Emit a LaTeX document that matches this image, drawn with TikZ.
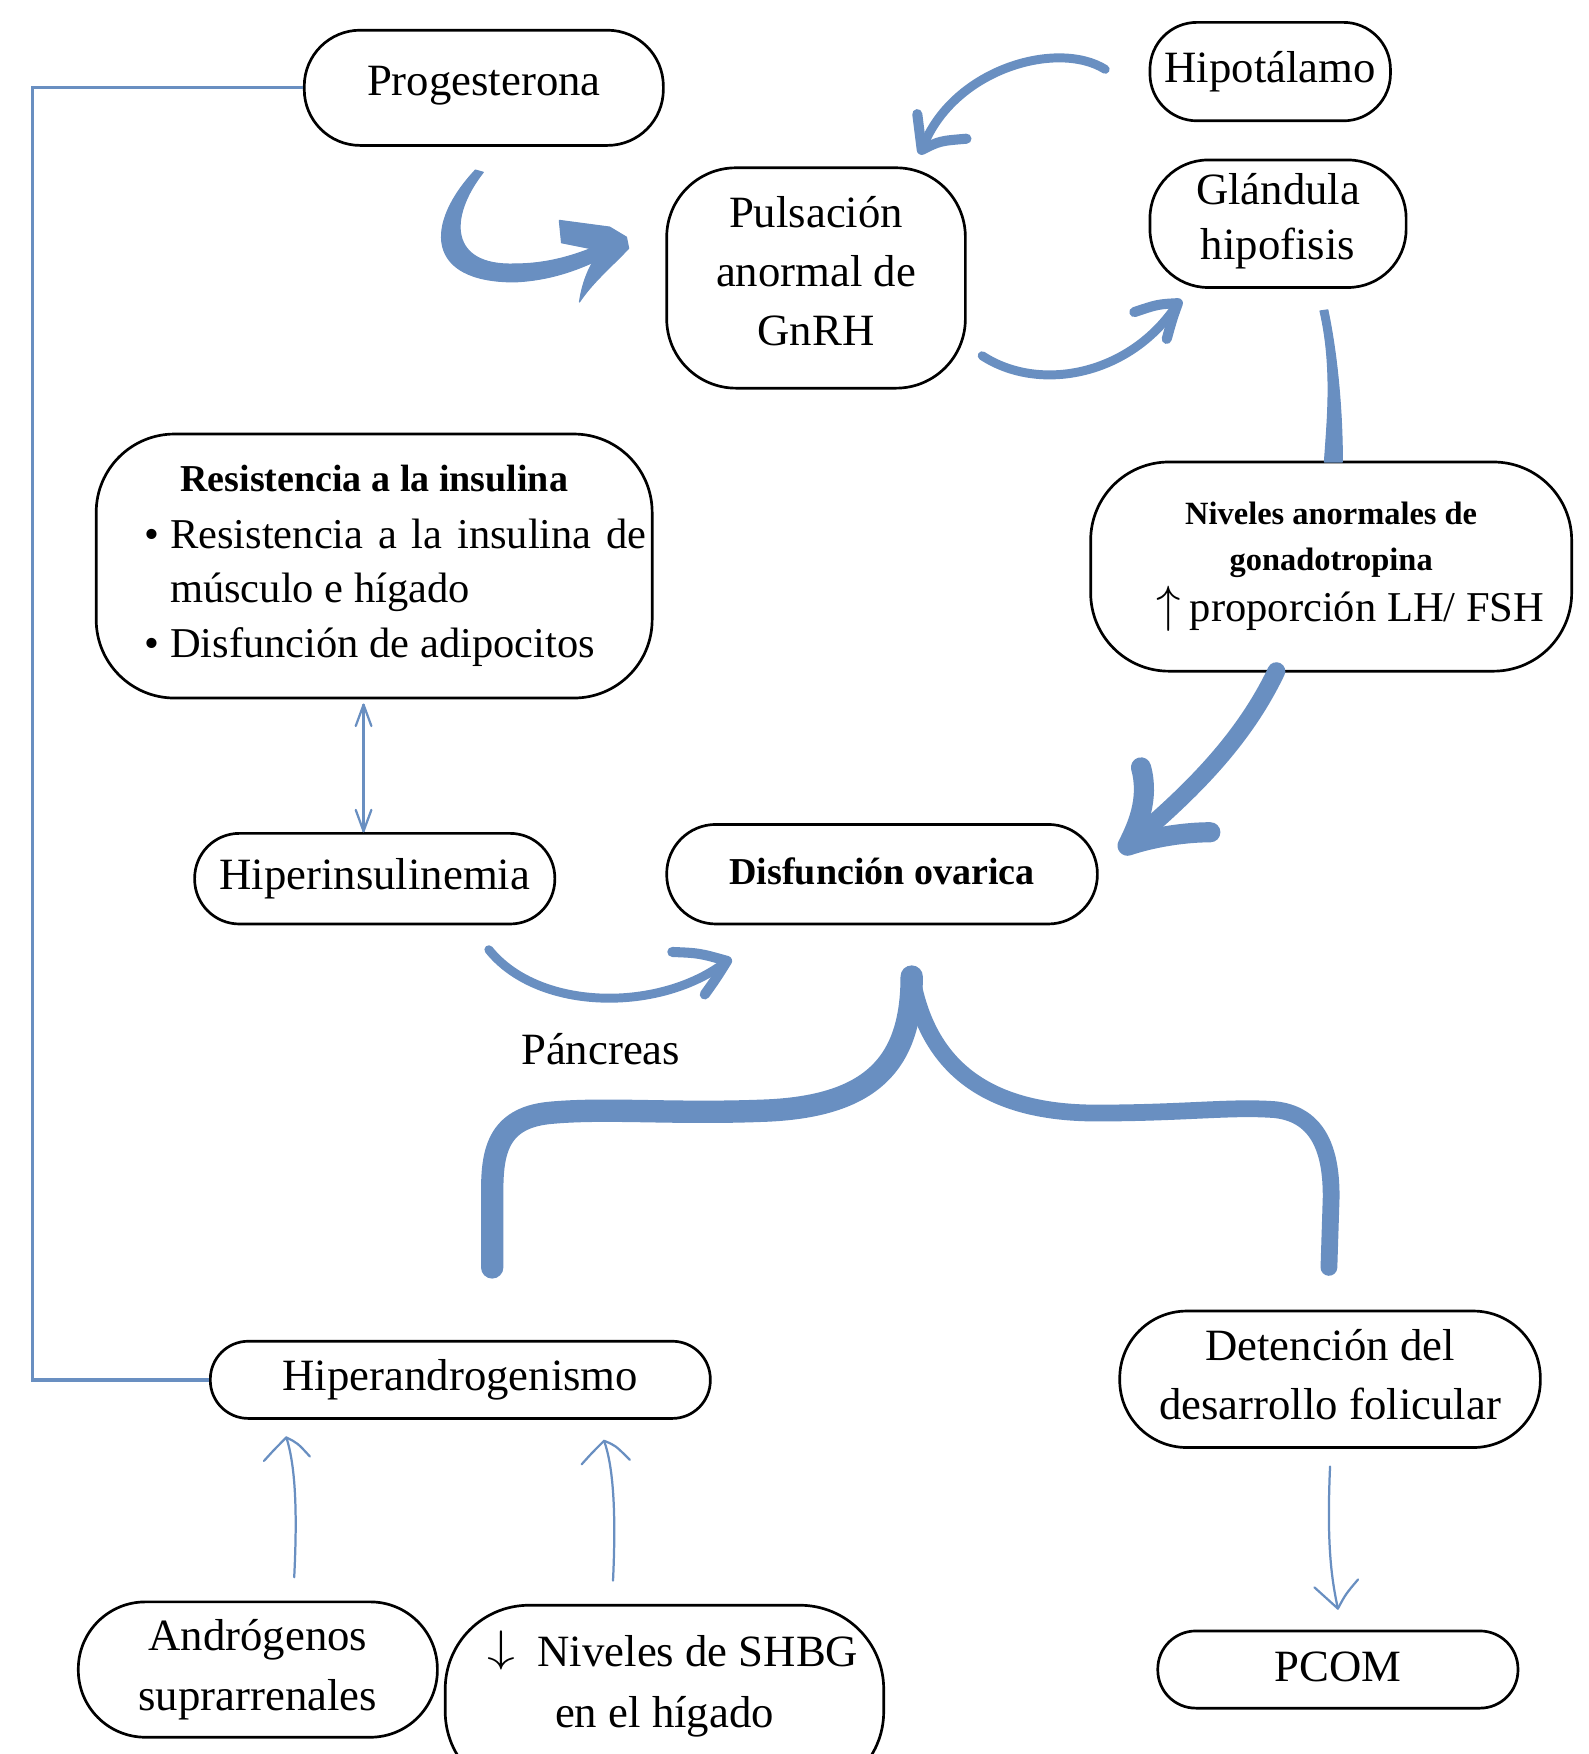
\documentclass[tikz,border=0pt]{standalone}
\usepackage{fontspec}
\setmainfont{Liberation Serif}
\definecolor{blu}{RGB}{105,143,193}
\newcommand{\myup}{\raisebox{0pt}{\scalebox{2.1}[2.2]{\fontsize{20.74}{24}\selectfont$\uparrow$}}}
\newcommand{\mydown}{\raisebox{5pt}{\scalebox{2.4}[1.9]{\fontsize{20.74}{24}\selectfont$\downarrow$}}}
\newcommand{\lift}[2]{\raisebox{#1}[\height][\depth]{#2}}
\begin{document}
\begin{tikzpicture}[x=1pt,y=-1pt,
  box/.style={draw=black, line width=2.4pt, rounded corners=#1, align=center, inner sep=0pt,
    font=\fontsize{40}{53}\selectfont},
  box/.default=34pt,
  txt/.style={inner sep=0pt, align=center, font=\fontsize{40}{53}\selectfont},
  bl/.style={draw=blu, line cap=round, line join=round},
  blf/.style={fill=blu, draw=blu, line width=1pt, line join=round},
  thin/.style={bl, line width=2pt},
]
\useasboundingbox (0,0) rectangle (1420,1568);
\clip (0,0) rectangle (1420,1568);

% ---------- nodes ----------
\node[box=50pt, minimum width=321pt, minimum height=103pt] (prog) at (432.5,78.5) {\lift{1.5pt}{Progesterona}};
\node[box=62pt, minimum width=267pt, minimum height=197pt] (puls) at (729.5,248.5) {\lift{6pt}{\parbox{260pt}{\centering Pulsación\\anormal de\\GnRH}}};
\node[box=42pt, minimum width=215pt, minimum height=88pt] (hipo) at (1135.5,64) {Hipotálamo};
\node[box=52pt, minimum width=229pt, minimum height=114pt, font=\fontsize{40}{49}\selectfont] (glan) at (1142.5,200) {\lift{2pt}{\parbox{220pt}{\centering Glándula\\hipofisis}}};
\node[box=70pt, minimum width=497pt, minimum height=236pt] (res) at (334.5,506) {\hspace*{41pt}\parbox{446pt}{\fontsize{38}{49}\selectfont
  \makebox[446pt]{\hspace*{-41pt}\fontsize{34}{34}\selectfont\bfseries Resistencia a la insulina}\\[1.5pt]
  \makebox[20pt][l]{\hspace*{-3pt}•}\makebox[426pt][s]{Resistencia a la insulina de}\\
  \hspace*{20pt}músculo e hígado\\
  \makebox[20pt][l]{\hspace*{-3pt}•}Disfunción de adipocitos}};
\node[box=70pt, minimum width=430pt, minimum height=187pt] (niv) at (1190,506.5) {\parbox{420pt}{\centering
  \fontsize{29}{41}\selectfont\bfseries Niveles anormales de\\gonadotropina\par
  \fontsize{38}{46}\selectfont\mdseries \makebox[420pt][l]{\hspace*{54pt}\myup\hspace{8pt}proporción LH/ FSH}\par}};
\node[box=40pt, minimum width=322pt, minimum height=81pt] (hins) at (335,785.5) {Hiperinsulinemia};
\node[box=44pt, minimum width=385pt, minimum height=89pt, font=\fontsize{34}{40}\selectfont\bfseries] (dov) at (788.5,781.5) {\lift{3pt}{Disfunción ovarica}};
\node[txt] (panc) at (537,938) {Páncreas};
\node[box=34pt, minimum width=447pt, minimum height=69pt] (hand) at (411.5,1233.5) {Hiperandrogenismo};
\node[box=60pt, minimum width=376pt, minimum height=122pt] (det) at (1189,1233) {\lift{4pt}{\parbox{370pt}{\centering Detención del\\desarrollo folicular}}};
\node[box=60pt, minimum width=321pt, minimum height=121pt] (andr) at (230.5,1492.5) {\parbox{310pt}{\centering Andrógenos\\suprarrenales}};
\node[box=75pt, minimum width=392pt, minimum height=170pt] (shbg) at (594,1520) {};
\node[txt, font=\fontsize{40}{54}\selectfont] (shbgt) at (601.5,1505) {\mydown\hspace{20pt}Niveles de SHBG\\\hspace*{-15pt}en el hígado};
\node[box=34pt, minimum width=322pt, minimum height=69pt] (pcom) at (1196,1492.5) {\lift{2pt}{PCOM}};

% ---------- thin connectors ----------
\draw[bl, line width=3pt, line cap=butt, line join=miter] (prog.west) -- (29,78.5) -- (29,1233.5) -- (hand.west);

\coordinate (k1) at (325,630);
\coordinate (k2) at (325,743);
\draw[thin] (k1) -- (k2);
\draw[thin] (318,649) -- (k1) -- (332,649);
\draw[thin] (318,724) -- (k2) -- (332,724);

\coordinate (h1) at (263,1410);
\coordinate (h2) at (256,1285);
\draw[thin] (h1) .. controls (266,1350) and (264,1310) .. (h2);
\draw[thin] (236,1306) .. controls (245,1296) .. (h2) .. controls (266,1290) .. (277,1302);

\coordinate (i1) at (548,1413);
\coordinate (i2) at (540,1288);
\draw[thin] (i1) .. controls (551,1350) and (548,1310) .. (i2);
\draw[thin] (520,1309) .. controls (529,1299) .. (i2) .. controls (550,1292) .. (563,1305);

\coordinate (j1) at (1189,1311);
\coordinate (j2) at (1196,1438);
\draw[thin] (j1) .. controls (1186,1380) and (1190,1410) .. (j2);
\draw[thin] (1175,1419) .. controls (1186,1428) .. (j2) .. controls (1203,1425) .. (1214,1412);

% ---------- thick blue arrows ----------
% Progesterona -> Pulsacion
\coordinate (a1) at (428,153);
\coordinate (a2) at (560,212);
\fill[blf] (425,152) .. controls (380,200) and (380,252) .. (460,252) .. controls (505,250) and (535,232) .. (556,222)
  -- (556,210) .. controls (530,222) and (500,236) .. (460,236) .. controls (402,238) and (400,195) .. (432,154) -- cycle;
\fill[blf] (500,197) -- (545,203) -- (a2) -- (562,222) .. controls (547,238) and (530,252) .. (518,270)
  .. controls (521,250) and (528,235) .. (537,224) -- (502,217) -- cycle;

% Hipotalamo -> Pulsacion
\coordinate (b1) at (988,62);
\coordinate (b2) at (824,134);
\draw[bl, line width=8pt] (b1) .. controls (945,35) and (850,62) .. (b2);
\draw[bl, line width=9pt] (820,102) .. controls (822,118) .. (b2) .. controls (840,126) .. (864,124);

% Pulsacion -> Glandula
\coordinate (c1) at (878,318);
\coordinate (c2) at (1053,271);
\draw[bl, line width=8pt] (c1) .. controls (930,352) and (1012,335) .. (c2);
\draw[bl, line width=9pt] (1014,279) .. controls (1035,272) .. (c2) .. controls (1048,285) .. (1043,303);

% Glandula -> Niveles
\fill[blf] (1180,278) .. controls (1192,330) and (1186,380) .. (1184,413) -- (1200,413)
  .. controls (1200,370) and (1196,320) .. (1187,277) -- cycle;

% Niveles -> Disfuncion
\coordinate (e1) at (1141,600);
\coordinate (e2) at (1008,756);
\draw[bl, line width=16pt] (e1) .. controls (1110,665) and (1060,712) .. (e2);
\draw[bl, line width=18pt] (1020,686) .. controls (1028,715) and (1016,740) .. (e2) .. controls (1032,748) and (1060,744) .. (1082,744);

% Hiperinsulinemia -> Disfuncion
\coordinate (f1) at (437,849);
\coordinate (f2) at (650,859);
\draw[bl, line width=8pt] (f1) .. controls (482,905) and (592,905) .. (f2);
\draw[bl, line width=9pt] (601,851) .. controls (625,852) .. (f2) .. controls (640,875) .. (630,889);

% Brace from Disfuncion ovarica
\coordinate (g0) at (815,873);
\draw[bl, line width=20pt] (g0) .. controls (815,950) and (780,990) .. (680,993)
  .. controls (600,996) and (540,990) .. (490,995) .. controls (445,1000) and (440,1030) .. (440,1065) -- (440,1133);
\draw[bl, line width=15pt] (g0) .. controls (830,960) and (890,995) .. (980,995)
  .. controls (1060,995) and (1100,989) .. (1140,992) .. controls (1185,997) and (1190,1040) .. (1190,1070) -- (1188,1133);

\end{tikzpicture}
\end{document}
